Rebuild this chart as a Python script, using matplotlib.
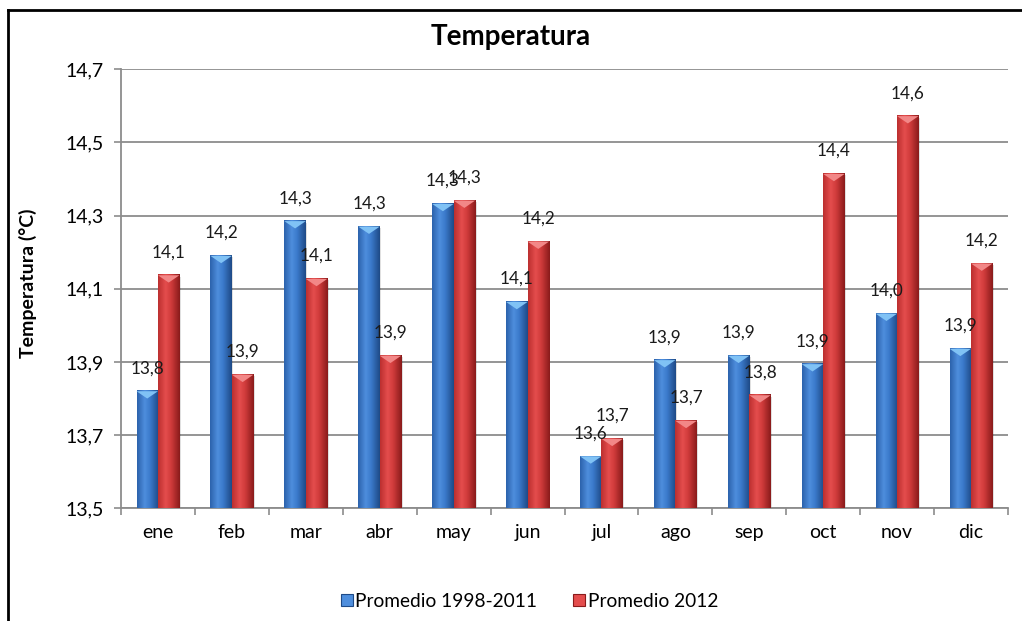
import numpy as np
import matplotlib
matplotlib.use("Agg")
import matplotlib.pyplot as plt
from matplotlib.colors import LinearSegmentedColormap
from matplotlib.patches import Polygon, Patch
from matplotlib.lines import Line2D

plt.rcParams['font.family'] = ['Lato', 'DejaVu Sans']

# Monthly mean temperatures (°C)
months = ["ene", "feb", "mar", "abr", "may", "jun",
          "jul", "ago", "sep", "oct", "nov", "dic"]
avg_1998_2011 = [13.82, 14.19, 14.285, 14.27, 14.332, 14.064,
                 13.642, 13.905, 13.917, 13.894, 14.032, 13.936]
avg_2012 = [14.137, 13.865, 14.127, 13.917, 14.341, 14.229,
            13.69, 13.739, 13.809, 14.414, 14.572, 14.169]
series_names = ["Promedio 1998-2011", "Promedio 2012"]
y_ticks = [13.5, 13.7, 13.9, 14.1, 14.3, 14.5, 14.7]

# gradient (edge -> highlight -> dark edge) and cap colour per series
styles = [
    dict(grad=["#2C62AC", "#4E8EDD", "#3B7ACB", "#1E4A87"], cap="#80C2F5"),
    dict(grad=["#BC2F2F", "#E44D4D", "#D03B3B", "#8A1B1B"], cap="#F28787"),
]

fig = plt.figure(figsize=(10.22, 6.21), dpi=100)
ax = fig.add_axes([0.1184, 0.1815, 0.8679, 0.7069])

ymin, ymax = y_ticks[0], y_ticks[-1]
bar_w = 0.29
x = np.arange(len(months))
grad = np.linspace(0, 1, 64).reshape(1, -1)
cap_h = 0.02

for s, (vals, st) in enumerate(zip([avg_1998_2011, avg_2012], styles)):
    cmap = LinearSegmentedColormap.from_list(f"g{s}", list(zip([0, 0.35, 0.6, 1], st["grad"])))
    for xi, v in zip(x, vals):
        x0 = xi - bar_w + s * bar_w
        x1 = x0 + bar_w
        # soft shadow
        ax.add_patch(plt.Rectangle((x0 + 0.02, ymin), bar_w, v - ymin - 0.004,
                                   color="black", alpha=0.12, lw=0, zorder=2))
        ax.imshow(grad, extent=[x0, x1, ymin, v], aspect="auto", cmap=cmap,
                  zorder=3, interpolation="bilinear")
        ax.add_patch(Polygon([[x0, v], [x1, v], [(x0 + x1) / 2, v - cap_h]],
                             closed=True, color=st["cap"], lw=0, zorder=4))
        ax.annotate(f"{v:.1f}".replace(".", ","), (xi - bar_w / 2 + s * bar_w, v),
                    xytext=(0, 16.5), textcoords="offset points",
                    ha="center", va="center", fontsize=12.3, color="#1a1a1a", zorder=5)

ax.set_xlim(-0.5, len(months) - 0.5)
ax.set_ylim(ymin, ymax)
ax.set_yticks(y_ticks)
ax.set_yticklabels([f"{t:.1f}".replace(".", ",") for t in y_ticks], fontsize=14)
ax.set_xticks(x)
ax.set_xticklabels(months, fontsize=14)
ax.set_xticks(np.arange(len(months) + 1) - 0.5, minor=True)
ax.tick_params(axis="x", which="major", length=0, pad=11)
ax.tick_params(axis="x", which="minor", length=5, color="#8C8C8C", width=1.2)
ax.tick_params(axis="y", length=5, color="#8C8C8C", width=1.2, pad=7.5)
ax.yaxis.grid(True, color="#8C8C8C", lw=1.3)
ax.set_axisbelow(True)
for side in ("top", "right"):
    ax.spines[side].set_visible(False)
for side in ("left", "bottom"):
    ax.spines[side].set_color("#8C8C8C")
    ax.spines[side].set_linewidth(1.3)

fig.text(0.5, 0.94, "Temperatura", ha="center", va="center",
         fontsize=20, fontweight="bold")
fig.text(0.0275, 0.544, "Temperatura (°C)", ha="center", va="center",
         rotation=90, fontsize=14, fontweight="bold")

handles = [Patch(facecolor=styles[i]["grad"][1], edgecolor=styles[i]["grad"][3], lw=0.8)
           for i in range(2)]
fig.legend(handles, series_names, loc="center", bbox_to_anchor=(0.518, 0.032),
           ncol=2, frameon=False, fontsize=13.8, handlelength=0.62, handleheight=0.62,
           handletextpad=0.12, columnspacing=1.9)

# chart border (top and left edges)
fig.add_artist(Line2D([0.008, 1.0], [0.984, 0.984], color="black", lw=2,
                      transform=fig.transFigure))
fig.add_artist(Line2D([0.008, 0.008], [0.0, 0.984], color="black", lw=2,
                      transform=fig.transFigure))

fig.savefig("out.png", dpi=100)
